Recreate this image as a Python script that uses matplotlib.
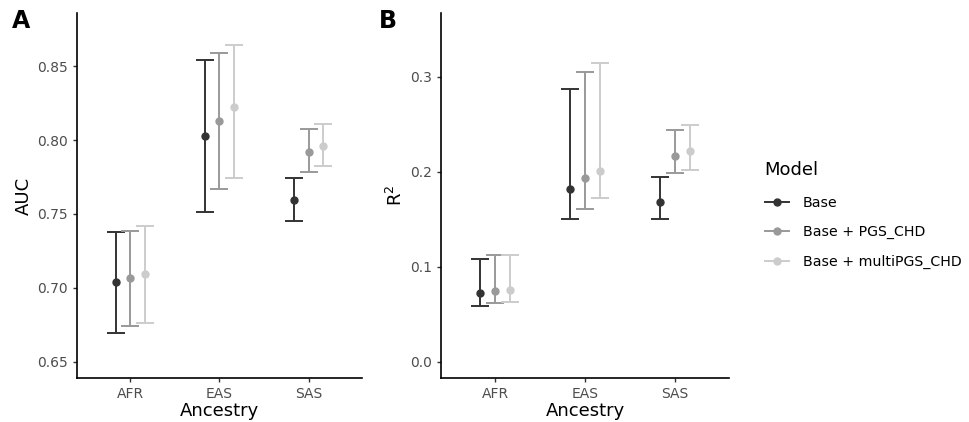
import numpy as np
import matplotlib.pyplot as plt
from matplotlib.lines import Line2D

# 데이터
ancestry = ['AFR', 'EAS', 'SAS']
models = ['Base', 'Base + PGS_CHD', 'Base + multiPGS_CHD']
colors = ['#333333', '#999999', '#cccccc']

# AUC (점추정, 하한, 상한) - 모델별, 집단 순서 AFR/EAS/SAS
auc_est = [[0.704, 0.803, 0.7595], [0.7066, 0.8128, 0.7921], [0.7095, 0.8223, 0.796]]
auc_lo = [[0.6694, 0.7514, 0.7453], [0.6741, 0.7667, 0.7786], [0.6759, 0.7745, 0.7824]]
auc_hi = [[0.7376, 0.8545, 0.7743], [0.7387, 0.859, 0.8072], [0.7421, 0.8642, 0.8106]]

# R2
r2_est = [[0.072, 0.1818, 0.1678], [0.0744, 0.1937, 0.2162], [0.0751, 0.2007, 0.2215]]
r2_lo = [[0.0586, 0.1505, 0.1505], [0.0618, 0.161, 0.1986], [0.0632, 0.172, 0.2021]]
r2_hi = [[0.1078, 0.287, 0.194], [0.1123, 0.305, 0.2442], [0.1123, 0.3141, 0.2488]]

plt.rcParams['font.family'] = 'DejaVu Sans'

fig = plt.figure(figsize=(9.7, 4.22), dpi=100)
ax_a = fig.add_axes([77 / 970, 44 / 422, 285 / 970, 365 / 422])
ax_b = fig.add_axes([441 / 970, 44 / 422, 288 / 970, 365 / 422])

x = np.arange(len(ancestry))
offsets = [-1 / 6, 0, 1 / 6]


def draw(ax, est, lo, hi, ylim, yticks, ylabel):
    for i, m in enumerate(models):
        e = np.array(est[i])
        err = [e - np.array(lo[i]), np.array(hi[i]) - e]
        ax.errorbar(x + offsets[i], e, yerr=err, fmt='o', color=colors[i],
                    ms=5, elinewidth=1.4, capsize=6.5, capthick=1.4)
    ax.set_xlim(-0.6, 2.6)
    ax.set_ylim(*ylim)
    ax.set_xticks(x)
    ax.set_xticklabels(ancestry)
    ax.set_yticks(yticks)
    ax.set_xlabel('Ancestry', fontsize=13, labelpad=1)
    ax.set_ylabel(ylabel, fontsize=13, labelpad=3)
    for s in ['top', 'right']:
        ax.spines[s].set_visible(False)
    for s in ['left', 'bottom']:
        ax.spines[s].set_linewidth(1.2)
        ax.spines[s].set_color('black')
    ax.tick_params(axis='both', labelsize=10, colors='#333333', labelcolor='#4d4d4d',
                   length=3, width=1)


draw(ax_a, auc_est, auc_lo, auc_hi, (0.639, 0.886), [0.65, 0.70, 0.75, 0.80, 0.85], 'AUC')
ax_a.set_yticklabels(['0.65', '0.70', '0.75', '0.80', '0.85'])
draw(ax_b, r2_est, r2_lo, r2_hi, (-0.017, 0.367), [0.0, 0.1, 0.2, 0.3], 'R$^2$')
ax_b.set_yticklabels(['0.0', '0.1', '0.2', '0.3'])

fig.text(12 / 970, 1 - 21 / 422, 'A', fontsize=17, fontweight='bold', va='center')
fig.text(379 / 970, 1 - 21 / 422, 'B', fontsize=17, fontweight='bold', va='center')

# 범례 (점 + 선 키), 제목은 따로
fig.text(764 / 970, 1 - 170 / 422, 'Model', fontsize=13, va='center')
handles = [Line2D([], [], color=c, marker='o', ms=5, lw=1.4) for c in colors]
leg = fig.legend(handles, models, loc='upper left',
                 bbox_to_anchor=(752 / 970, 1 - 183 / 422), frameon=False,
                 fontsize=10.2, handlelength=1.7,
                 labelspacing=1.1, handletextpad=1.0)

fig.savefig('out.png', dpi=100)
